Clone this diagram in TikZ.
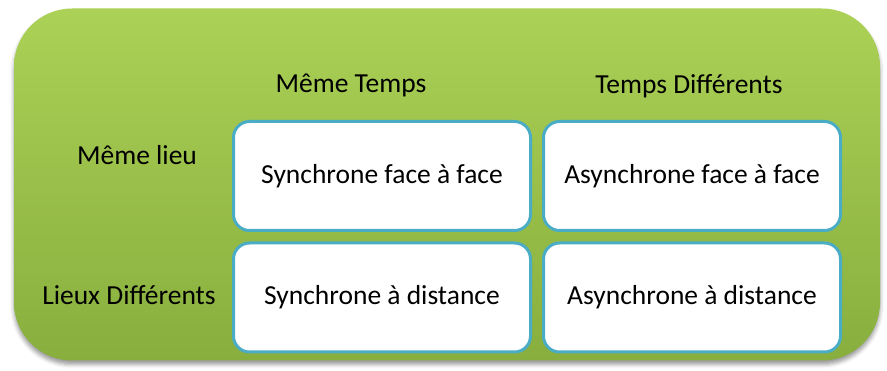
\documentclass[tikz,border=0pt]{standalone}
\usepackage{fontspec}
\setmainfont{Carlito}
\usetikzlibrary{shadows.blur}
\definecolor{gtop}{HTML}{ABD156}
\definecolor{gbot}{HTML}{88AE3E}
\definecolor{bord}{HTML}{4BACC6}
\tikzset{
  cell/.style={draw=bord, line width=3pt, fill=white, rounded corners=16pt,
    minimum width=297pt, minimum height=109pt, inner sep=0pt,
    font=\fontsize{27.5}{32}\selectfont},
  hlabel/.style={anchor=base, inner sep=0pt, font=\fontsize{27.5}{32}\selectfont}
}
\begin{document}
\begin{tikzpicture}[x=1pt,y=-1pt]
\useasboundingbox (0,0) rectangle (887,371);
\node[draw=none, rounded corners=58pt, top color=gtop, bottom color=gbot,
  minimum width=866pt, minimum height=352pt, inner sep=0pt,
  blur shadow={shadow xshift=0pt, shadow yshift=-4pt, shadow blur radius=4pt, shadow opacity=40}]
  (bg) at (447,184.5) {};
\node[cell] (sff) at (382,176) {Synchrone face à face};
\node[cell] (aff) at (692,176) {Asynchrone face à face};
\node[cell] (sad) at (382,297.5) {Synchrone à distance};
\node[cell] (aad) at (692,297.5) {Asynchrone à distance};
\node[hlabel] (mt) at (351,93) {Même Temps};
\node[hlabel] (td) at (689,94) {Temps Différents};
\node[hlabel] (ml) at (137,165) {Même lieu};
\node[hlabel] (ld) at (129,305) {Lieux Différents};
\end{tikzpicture}
\end{document}
